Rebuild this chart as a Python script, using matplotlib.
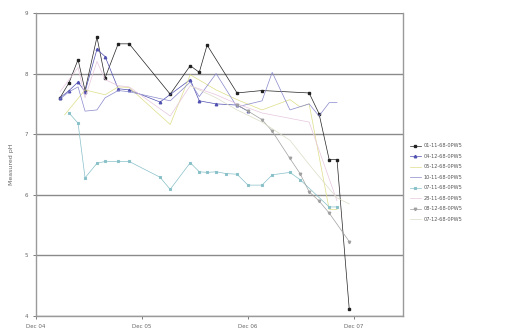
import matplotlib
matplotlib.use("Agg")
import matplotlib.pyplot as plt
import matplotlib.dates as mdates
import numpy as np

# sampling dates and measured pH per well
DATES_A = ["2005-02-22", "2005-03-25", "2005-04-25", "2005-05-19", "2005-06-29",
           "2005-07-27", "2005-09-10", "2005-10-18", "2006-03-08", "2006-05-16",
           "2006-06-16", "2006-07-13", "2006-10-24", "2007-01-18", "2007-06-29",
           "2007-08-02", "2007-09-06", "2007-10-03", "2007-11-14"]
PH_0111 = [7.60, 7.85, 8.23, 7.72, 8.60, 7.93, 8.49, 8.49, 7.66, 8.13,
           8.02, 8.47, 7.68, 7.72, 7.68, 7.34, 6.58, 6.58, 4.12]

DATES_B = ["2005-02-22", "2005-03-25", "2005-04-25", "2005-05-19", "2005-06-29",
           "2005-07-27", "2005-09-10", "2005-10-18", "2006-02-01", "2006-05-16",
           "2006-06-16", "2006-08-13", "2006-10-24", "2006-12-01"]
PH_0412 = [7.60, 7.72, 7.86, 7.70, 8.40, 8.28, 7.75, 7.73, 7.53, 7.90,
           7.55, 7.50, 7.48, 7.38]

DATES_C = ["2005-03-10", "2005-05-19", "2005-07-27", "2005-09-10", "2005-10-18",
           "2006-03-08", "2006-05-16", "2006-08-13", "2006-10-24", "2007-01-18",
           "2007-04-24", "2007-05-29", "2007-06-29", "2007-09-06", "2007-10-03"]
PH_0512 = [7.32, 7.73, 7.65, 7.78, 7.77, 7.16, 7.98, 7.73, 7.57, 7.40,
           7.57, 7.45, 7.50, 5.76, 5.76]

DATES_D = ["2005-02-22", "2005-03-25", "2005-04-25", "2005-05-19", "2005-06-29",
           "2005-07-27", "2005-09-10", "2005-10-18", "2006-03-08", "2006-05-16",
           "2006-06-16", "2006-08-13", "2006-10-24", "2007-01-18", "2007-02-22",
           "2007-04-24", "2007-06-29", "2007-08-02", "2007-09-06", "2007-10-03"]
PH_1011 = [7.58, 7.70, 7.78, 7.38, 7.40, 7.60, 7.72, 7.70, 7.55, 7.86,
           7.62, 8.00, 7.45, 7.55, 8.02, 7.40, 7.50, 7.30, 7.52, 7.52]

DATES_E = ["2005-03-25", "2005-04-25", "2005-05-19", "2005-06-29", "2005-07-27",
           "2005-09-10", "2005-10-18", "2006-02-01", "2006-03-08", "2006-05-16",
           "2006-06-16", "2006-07-13", "2006-08-13", "2006-09-17", "2006-10-24",
           "2006-12-01", "2007-01-18", "2007-02-22", "2007-04-24", "2007-05-29",
           "2007-09-06", "2007-10-03"]
PH_0711 = [7.35, 7.18, 6.28, 6.52, 6.55, 6.55, 6.55, 6.29, 6.09, 6.53,
           6.38, 6.37, 6.38, 6.35, 6.34, 6.16, 6.16, 6.33, 6.37, 6.25,
           5.80, 5.80]

DATES_F = ["2005-02-22", "2005-03-25", "2005-04-25", "2005-05-19", "2005-06-29",
           "2005-07-27", "2005-09-10", "2005-10-18", "2006-03-08", "2006-05-16",
           "2006-08-13", "2006-10-24", "2007-01-18", "2007-06-29", "2007-10-03"]
PH_2811 = [7.70, 7.90, 8.10, 7.60, 8.20, 7.90, 7.80, 7.78, 7.30, 7.80,
           7.65, 7.50, 7.35, 7.20, 5.90]

DATES_G = ["2006-10-24", "2006-12-01", "2007-01-18", "2007-02-22", "2007-04-24",
           "2007-05-29", "2007-06-29", "2007-08-02", "2007-09-06", "2007-11-14"]
PH_0812 = [7.48, 7.38, 7.24, 7.05, 6.60, 6.35, 6.05, 5.90, 5.70, 5.23]

DATES_H = ["2006-05-16", "2006-08-13", "2006-10-24", "2007-01-18", "2007-04-24",
           "2007-06-29", "2007-09-06", "2007-10-03", "2007-11-14"]
PH_0712 = [7.80, 7.60, 7.40, 7.20, 6.90, 6.50, 6.10, 5.95, 5.85]

SERIES = [
    ("01-11-68-0PW5", DATES_A, PH_0111, "#222222", "s"),
    ("04-12-68-0PW5", DATES_B, PH_0412, "#5050b0", "^"),
    ("05-12-68-0PW5", DATES_C, PH_0512, "#dede88", None),
    ("10-11-68-0PW5", DATES_D, PH_1011, "#8888cc", None),
    ("07-11-68-0PW5", DATES_E, PH_0711, "#88c0c8", "x"),
    ("28-11-68-0PW5", DATES_F, PH_2811, "#e6c6de", None),
    ("08-12-68-0PW5", DATES_G, PH_0812, "#a0a0a0", "v"),
    ("07-12-68-0PW5", DATES_H, PH_0712, "#dcdcc8", None),
]

fig = plt.figure(figsize=(5.06, 3.31), dpi=100)
ax = fig.add_axes([0.071, 0.045, 0.726, 0.916])

for name, dates, ph, color, marker in SERIES:
    x = np.array(dates, dtype="datetime64[D]")
    ax.plot(x, ph, color=color, linewidth=0.5, marker=marker,
            markersize=1.8, label=name)

ax.set_ylim(4, 9)
ax.set_yticks(range(4, 10))
ax.set_xlim(np.datetime64("2004-12-01"), np.datetime64("2008-05-18"))
ax.xaxis.set_major_locator(mdates.MonthLocator(bymonth=12, bymonthday=1))
ax.xaxis.set_major_formatter(mdates.DateFormatter("Dec %y"))
ax.tick_params(labelsize=4, colors="#666666", length=2, width=0.6)
ax.set_ylabel("Measured pH", fontsize=4.5, color="#666666", labelpad=8)

ax.grid(axis="y", color="#8a8a8a", linewidth=1.0)
ax.set_axisbelow(True)
for side in ["left", "bottom", "right"]:
    ax.spines[side].set_color("#9a9a9a")
    ax.spines[side].set_linewidth(1.0)
ax.spines["top"].set_visible(False)

leg = ax.legend(loc="center left", bbox_to_anchor=(1.005, 0.44), frameon=False,
                fontsize=3.6, handlelength=2.2, labelspacing=1.1, handletextpad=0.6)
for text in leg.get_texts():
    text.set_color("#555555")

fig.savefig("out.png", dpi=100)
